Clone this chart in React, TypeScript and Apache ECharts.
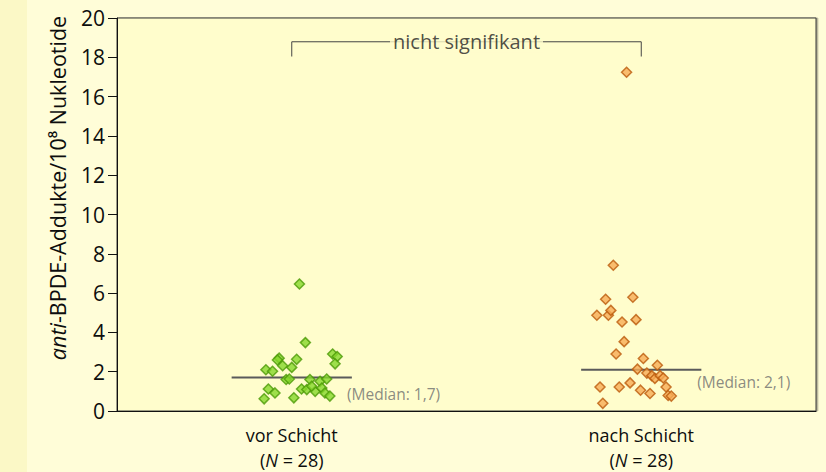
import React, { useEffect, useRef } from "react";
import * as echarts from "echarts";

const categories = ["vor Schicht", "nach Schicht"];
const sampleSizes = [28, 28];

const vorValues = [6.46, 3.48, 2.69, 2.6, 2.63, 2.9, 2.77, 2.4, 2.3, 2.22, 2.1, 2.02, 1.6, 1.63, 1.6, 1.51, 1.63, 1.12, 1.09, 1.0, 1.26, 1.17, 0.92, 0.76, 1.12, 0.92, 0.62, 0.67];
const vorJitter = [0.022, 0.039, -0.036, -0.041, 0.014, 0.117, 0.13, 0.124, -0.026, 0.0, -0.074, -0.055, -0.016, -0.007, 0.052, 0.081, 0.1, 0.028, 0.043, 0.067, 0.057, 0.086, 0.095, 0.109, -0.067, -0.048, -0.079, 0.006];

const nachValues = [17.24, 7.42, 5.69, 5.79, 4.87, 4.87, 5.12, 4.53, 4.65, 3.53, 2.9, 2.67, 2.13, 2.33, 1.93, 1.8, 1.66, 1.8, 1.68, 1.22, 0.79, 0.76, 1.22, 1.22, 1.43, 1.06, 0.89, 0.39];
const nachJitter = [-0.042, -0.08, -0.102, -0.024, -0.127, -0.094, -0.087, -0.055, -0.015, -0.049, -0.072, 0.006, -0.011, 0.046, 0.016, 0.03, 0.039, 0.054, 0.063, 0.071, 0.077, 0.086, -0.118, -0.063, -0.032, -0.002, 0.025, -0.11];

const medians = [1.7, 2.1];
const medianLabels = ["(Median: 1,7)", "(Median: 2,1)"];
const medianLabelPos = [[1.158, 0.86], [2.16, 1.46]];

const bracketText = "nicht signifikant";
const bracketLevels = [18.04, 18.79];

const yTitle = "{i|anti}-BPDE-Addukte/10⁸ Nukleotide";
const yMin = 0;
const yMax = 20;
const yStep = 2;

const FONT = "'Open Sans', 'Noto Sans', sans-serif";
const TXT = "#0d0d0d";

export default function App() {
  const ref = useRef<HTMLDivElement>(null);
  useEffect(() => {
    if (!ref.current) return;
    const chart = echarts.init(ref.current, null, { renderer: "svg" });
    const medianSeries = medians.map((m, i) => ({
      type: "line",
      xAxisIndex: 1,
      data: [[i + 1 - 0.172, m], [i + 1 + 0.172, m]],
      symbol: "none",
      lineStyle: { color: "#5a5a5a", width: 2 },
      z: 2,
    }));
    const option = {
      animation: false,
      textStyle: { fontFamily: FONT },
      grid: {
        left: 117,
        right: 10,
        top: 18,
        bottom: 58,
        show: true,
        backgroundColor: "#FFFDCC",
        borderColor: "#3a3a3a",
        borderWidth: 1,
        shadowColor: "rgba(0,0,0,0.35)",
        shadowOffsetX: 1.5,
        shadowOffsetY: 0,
        shadowBlur: 1,
      },
      graphic: [
        {
          type: "text",
          x: 57,
          y: 188,
          rotation: Math.PI / 2,
          style: {
            text: yTitle,
            align: "center",
            verticalAlign: "middle",
            fill: TXT,
            fontSize: 21.5,
            fontFamily: FONT,
            rich: {
              i: { fontStyle: "italic", fontSize: 21.5, fontFamily: FONT, fill: TXT },
            },
          },
        },
      ],
      xAxis: [
        {
          type: "category",
          data: categories,
          boundaryGap: true,
          axisLine: { show: true, lineStyle: { color: "#111", width: 1 } },
          axisTick: { show: false },
          axisLabel: {
            margin: 11,
            color: TXT,
            fontSize: 18,
            fontFamily: FONT,
            lineHeight: 25,
            formatter: (v: string, i: number) =>
              `{a|${v}}\n{b|(}{n|N}{b| = ${sampleSizes[i]})}`,
            rich: {
              a: { fontSize: 18, fontFamily: FONT, color: TXT, lineHeight: 25 },
              b: { fontSize: 18, fontFamily: FONT, color: TXT, lineHeight: 25 },
              n: { fontSize: 18, fontFamily: FONT, color: TXT, fontStyle: "italic", lineHeight: 25 },
            },
          },
          splitLine: { show: false },
        },
        {
          type: "value",
          min: 0.5,
          max: 2.5,
          show: false,
        },
      ],
      yAxis: {
        type: "value",
        min: yMin,
        max: yMax,
        interval: yStep,
        axisLine: { show: true, lineStyle: { color: "#111", width: 1 } },
        axisTick: { show: true, length: 9, lineStyle: { color: "#111" } },
        splitLine: { show: false },
        axisLabel: { color: TXT, fontSize: 21, margin: 12, fontFamily: FONT },
      },
      series: [
        ...medianSeries,
        {
          type: "line",
          xAxisIndex: 1,
          data: [
            [1, bracketLevels[0]],
            [1, bracketLevels[1]],
            [2, bracketLevels[1]],
            [2, bracketLevels[0]],
          ],
          symbol: "none",
          lineStyle: { color: "#444", width: 1 },
          z: 2,
        },
        {
          type: "scatter",
          xAxisIndex: 1,
          data: [[1.5, bracketLevels[1]]],
          symbolSize: 0,
          label: {
            show: true,
            position: "inside",
            formatter: bracketText,
            color: "#222",
            fontSize: 20,
            fontFamily: FONT,
            backgroundColor: "#FFFDCC",
            padding: [0, 3, 2, 3],
          },
          z: 3,
        },
        {
          type: "scatter",
          xAxisIndex: 1,
          data: medianLabelPos.map((p, i) => ({ value: p, name: medianLabels[i] })),
          symbolSize: 0,
          label: {
            show: true,
            position: "right",
            distance: 0,
            formatter: (p: any) => p.name,
            color: "#6d6d6d",
            fontSize: 15.5,
            fontFamily: FONT,
          },
          z: 3,
        },
        {
          type: "scatter",
          xAxisIndex: 1,
          data: vorValues.map((v, i) => [1 + vorJitter[i], v]),
          symbol: "diamond",
          symbolSize: 10,
          itemStyle: { color: "#86D72B", borderColor: "#4C9A08", borderWidth: 1.5 },
          z: 4,
        },
        {
          type: "scatter",
          xAxisIndex: 1,
          data: nachValues.map((v, i) => [2 + nachJitter[i], v]),
          symbol: "diamond",
          symbolSize: 10,
          itemStyle: { color: "#F7AB55", borderColor: "#BA5A0B", borderWidth: 1.5 },
          z: 4,
        },
      ],
    };
    chart.setOption(option as any);
    return () => chart.dispose();
  }, []);
  return (
    <div
      style={{
        position: "fixed",
        left: 0,
        top: 0,
        width: 826,
        height: 472,
        background: "linear-gradient(to right, #FBF8C6 0px, #FBF8C6 27px, #FFFDD8 27px, #FFFDD8 100%)",
      }}
    >
      <div ref={ref} style={{ width: 826, height: 472 }} />
    </div>
  );
}
